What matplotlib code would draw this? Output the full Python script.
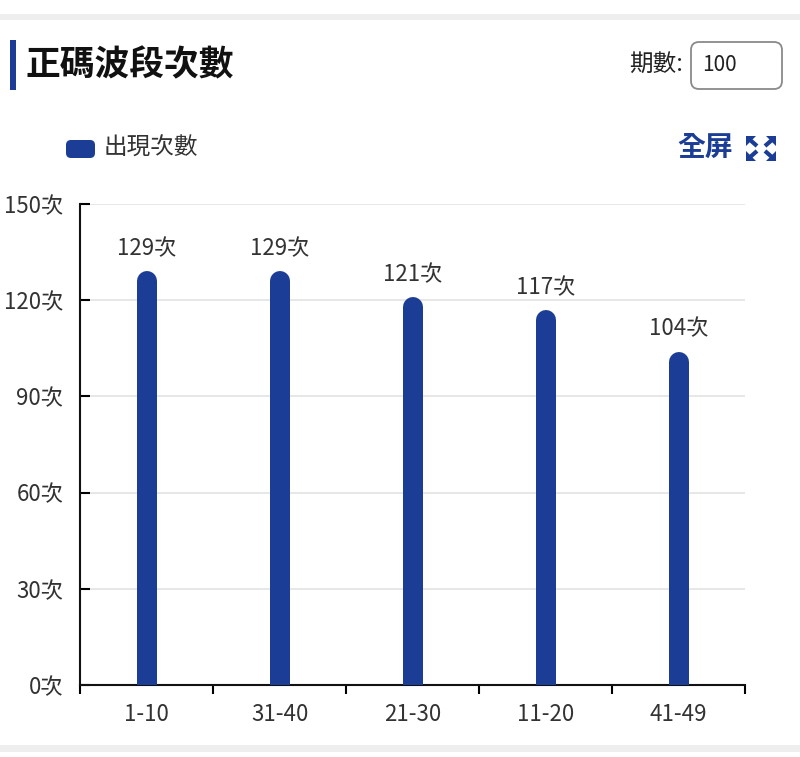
import matplotlib
matplotlib.use("Agg")
import matplotlib.pyplot as plt
import matplotlib.transforms as mtransforms
from matplotlib.patches import FancyBboxPatch, Rectangle, Polygon
import numpy as np

plt.rcParams["font.family"] = ["Noto Sans CJK TC", "DejaVu Sans"]
plt.rcParams["figure.dpi"] = 100

# data
categories = ["1-10", "31-40", "21-30", "11-20", "41-49"]
counts = [129, 129, 121, 117, 104]
y_ticks = [0, 30, 60, 90, 120, 150]
title = "正碼波段次數"
legend_label = "出現次數"
period = "100"

blue = "#1b3d95"

fig = plt.figure(figsize=(8, 7.57), facecolor="white")

# overlay for page decorations, in pixel coordinates
deco = fig.add_axes([0, 0, 1, 1])
deco.set_xlim(0, 800)
deco.set_ylim(757, 0)
deco.axis("off")

# separator bands
deco.add_patch(Rectangle((0, 14), 800, 6, color="#eeeeee", lw=0))
deco.add_patch(Rectangle((0, 745), 800, 7, color="#eeeeee", lw=0))

# title with blue marker
deco.add_patch(Rectangle((10, 40), 6, 50, color=blue, lw=0))
deco.text(25, 65, title, fontsize=25, fontweight="bold", va="center", ha="left", color="#111111")

# period input
deco.text(683, 65, "期數:", fontsize=17, va="center", ha="right", color="#222222")
deco.add_patch(FancyBboxPatch((691, 42), 91, 47, boxstyle="round,pad=0,rounding_size=8",
                              fc="white", ec="#8a8a8a", lw=1.3))
deco.text(702, 65, period, fontsize=15, va="center", ha="left", color="#222222")

# legend
deco.add_patch(FancyBboxPatch((66, 140), 29, 18, boxstyle="round,pad=0,rounding_size=5",
                              fc=blue, ec="none"))
deco.text(104, 148, legend_label, fontsize=17, va="center", ha="left", color="#333333")

# fullscreen button
deco.text(677, 148, "全屏", fontsize=20, fontweight="bold", va="center", ha="left", color=blue)
x0, x1, y0, y1 = 746, 776, 136, 161
for cx, cy, sx, sy in [(x0, y0, 1, 1), (x1, y0, -1, 1), (x0, y1, 1, -1), (x1, y1, -1, -1)]:
    deco.add_patch(Polygon([(cx, cy), (cx + sx * 10, cy), (cx, cy + sy * 10)],
                           closed=True, fc=blue, ec="none"))
    deco.plot([cx + sx * 3, cx + sx * 11], [cy + sy * 3, cy + sy * 10], color=blue,
              lw=3, solid_capstyle="butt")

# chart
ax = fig.add_axes([0.1, 72 / 757, 665 / 800, 481 / 757])
ax.set_facecolor("none")
x = np.arange(len(categories))

bar_px = 20
cap = bar_px / 2 * 72 / fig.dpi
shift = mtransforms.offset_copy(ax.transData, fig=fig, x=0, y=-cap, units="points")
ax.vlines(x, 0, counts, colors=blue, linewidth=bar_px * 72 / fig.dpi,
          capstyle="round", transform=shift, zorder=3)

for xi, v in zip(x, counts):
    ax.annotate(f"{v}次", (xi, v), xytext=(0, 8), textcoords="offset points",
                ha="center", va="bottom", fontsize=16, color="#333333")

ax.set_xlim(-0.5, len(categories) - 0.5)
ax.set_ylim(0, 150)
ax.set_yticks(y_ticks)
ax.set_yticklabels([f"{t}次" for t in y_ticks])
ax.set_xticks(x)
ax.set_xticklabels(categories)
ax.set_xticks(np.arange(len(categories) + 1) - 0.5, minor=True)

ax.grid(axis="y", color="#e3e3e3", lw=1.2, zorder=0)
ax.tick_params(axis="y", direction="in", length=7, width=1.5, pad=12,
               labelsize=16, labelcolor="#333333")
ax.tick_params(axis="x", which="major", length=0, pad=13, labelsize=16, labelcolor="#333333")
ax.tick_params(axis="x", which="minor", direction="out", length=6.5, width=1.5)

for side in ["top", "right"]:
    ax.spines[side].set_visible(False)
for side in ["left", "bottom"]:
    ax.spines[side].set_linewidth(1.5)
    ax.spines[side].set_color("#111111")

fig.savefig("out.png", dpi=100, facecolor="white")
